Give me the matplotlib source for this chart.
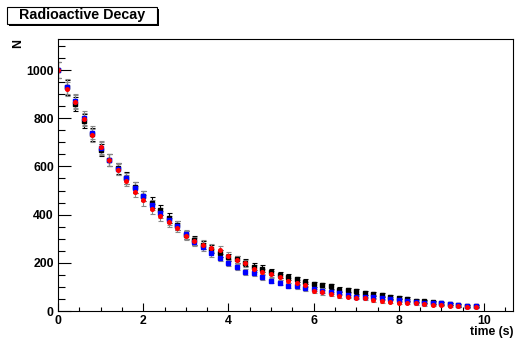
import numpy as np
import matplotlib
matplotlib.use("Agg")
import matplotlib.pyplot as plt
from matplotlib.patches import Rectangle
from matplotlib.ticker import MultipleLocator

plt.rcParams['font.family'] = ['Liberation Sans', 'DejaVu Sans']

# time points (s)
t = np.arange(50) * 0.2

n_black = [1000, 928, 858, 788, 734, 668, 627, 592, 552, 514,
           477, 450, 420, 386, 355, 316, 293, 274, 256, 239,
           223, 215, 200, 184, 176, 163, 151, 142, 131, 122,
           110, 107, 102, 89, 88, 81, 75, 70, 66, 59,
           56, 50, 43, 40, 37, 32, 29, 23, 21, 19]
n_red = [1000, 922, 867, 795, 729, 679, 627, 587, 541, 495,
         459, 425, 395, 368, 345, 313, 292, 276, 262, 253,
         228, 212, 198, 176, 163, 154, 142, 126, 117, 109,
         84, 77, 70, 62, 60, 56, 52, 46, 41, 38,
         35, 33, 32, 27, 25, 24, 22, 20, 16, 16]
n_blue = [1000, 931, 870, 800, 740, 675, 625, 590, 551, 511,
          478, 439, 408, 376, 353, 318, 285, 266, 241, 221,
          200, 183, 162, 156, 142, 126, 117, 104, 102, 94,
          91, 85, 78, 73, 68, 60, 60, 58, 56, 51,
          46, 43, 39, 35, 32, 32, 29, 24, 21, 21]

fig = plt.figure(figsize=(5.18, 3.39), dpi=100)
ax = fig.add_axes([58 / 518, 1 - 311 / 339, 455 / 518, 272.5 / 339])

for vals, col, mk, ms, ecol in [(n_black, 'black', 's', 3.3, 'black'),
                                (n_blue, 'blue', 's', 2.4, '#888888'),
                                (n_red, 'red', 'o', 2.6, '#888888')]:
    vals = np.array(vals)
    ax.errorbar(t, vals, yerr=np.sqrt(vals), fmt=mk, color=col, ms=ms,
                mec=col, ecolor=ecol, elinewidth=0.8, capsize=1.8,
                capthick=0.8)

ax.set_xlim(0, 10.68)
ax.set_ylim(0, 1131)
ax.xaxis.set_major_locator(MultipleLocator(2))
ax.xaxis.set_minor_locator(MultipleLocator(0.5))
ax.yaxis.set_major_locator(MultipleLocator(200))
ax.yaxis.set_minor_locator(MultipleLocator(50))
ax.tick_params(axis='y', which='major', direction='in', length=9.5, width=0.8, pad=3)
ax.tick_params(axis='y', which='minor', direction='in', length=4.8, width=0.8)
ax.tick_params(axis='x', which='major', direction='in', length=5.8, width=0.8, pad=3)
ax.tick_params(axis='x', which='minor', direction='in', length=3, width=0.8)
for lab in ax.get_xticklabels() + ax.get_yticklabels():
    lab.set_fontweight('bold')
    lab.set_fontsize(8.8)
for sp in ax.spines.values():
    sp.set_linewidth(0.8)

fig.text(18 / 518, 1 - 43 / 339, 'N', rotation=90, fontsize=8.8,
         fontweight='bold', ha='center', va='center')
fig.text(514 / 518, 1 - 332 / 339, 'time (s)', fontsize=8.8,
         fontweight='bold', ha='right', va='center')

# title box with shadow
fig.patches.append(Rectangle((9 / 518, 1 - 26 / 339), 150 / 518, 17 / 339,
                             transform=fig.transFigure, facecolor='black',
                             edgecolor='none'))
fig.patches.append(Rectangle((7 / 518, 1 - 24 / 339), 150 / 518, 17 / 339,
                             transform=fig.transFigure, facecolor='white',
                             edgecolor='black', linewidth=0.8))
fig.text(82 / 518, 1 - 15.5 / 339, 'Radioactive Decay', fontsize=10.3,
         fontweight='bold', ha='center', va='center')

fig.savefig('out.png', dpi=100)
